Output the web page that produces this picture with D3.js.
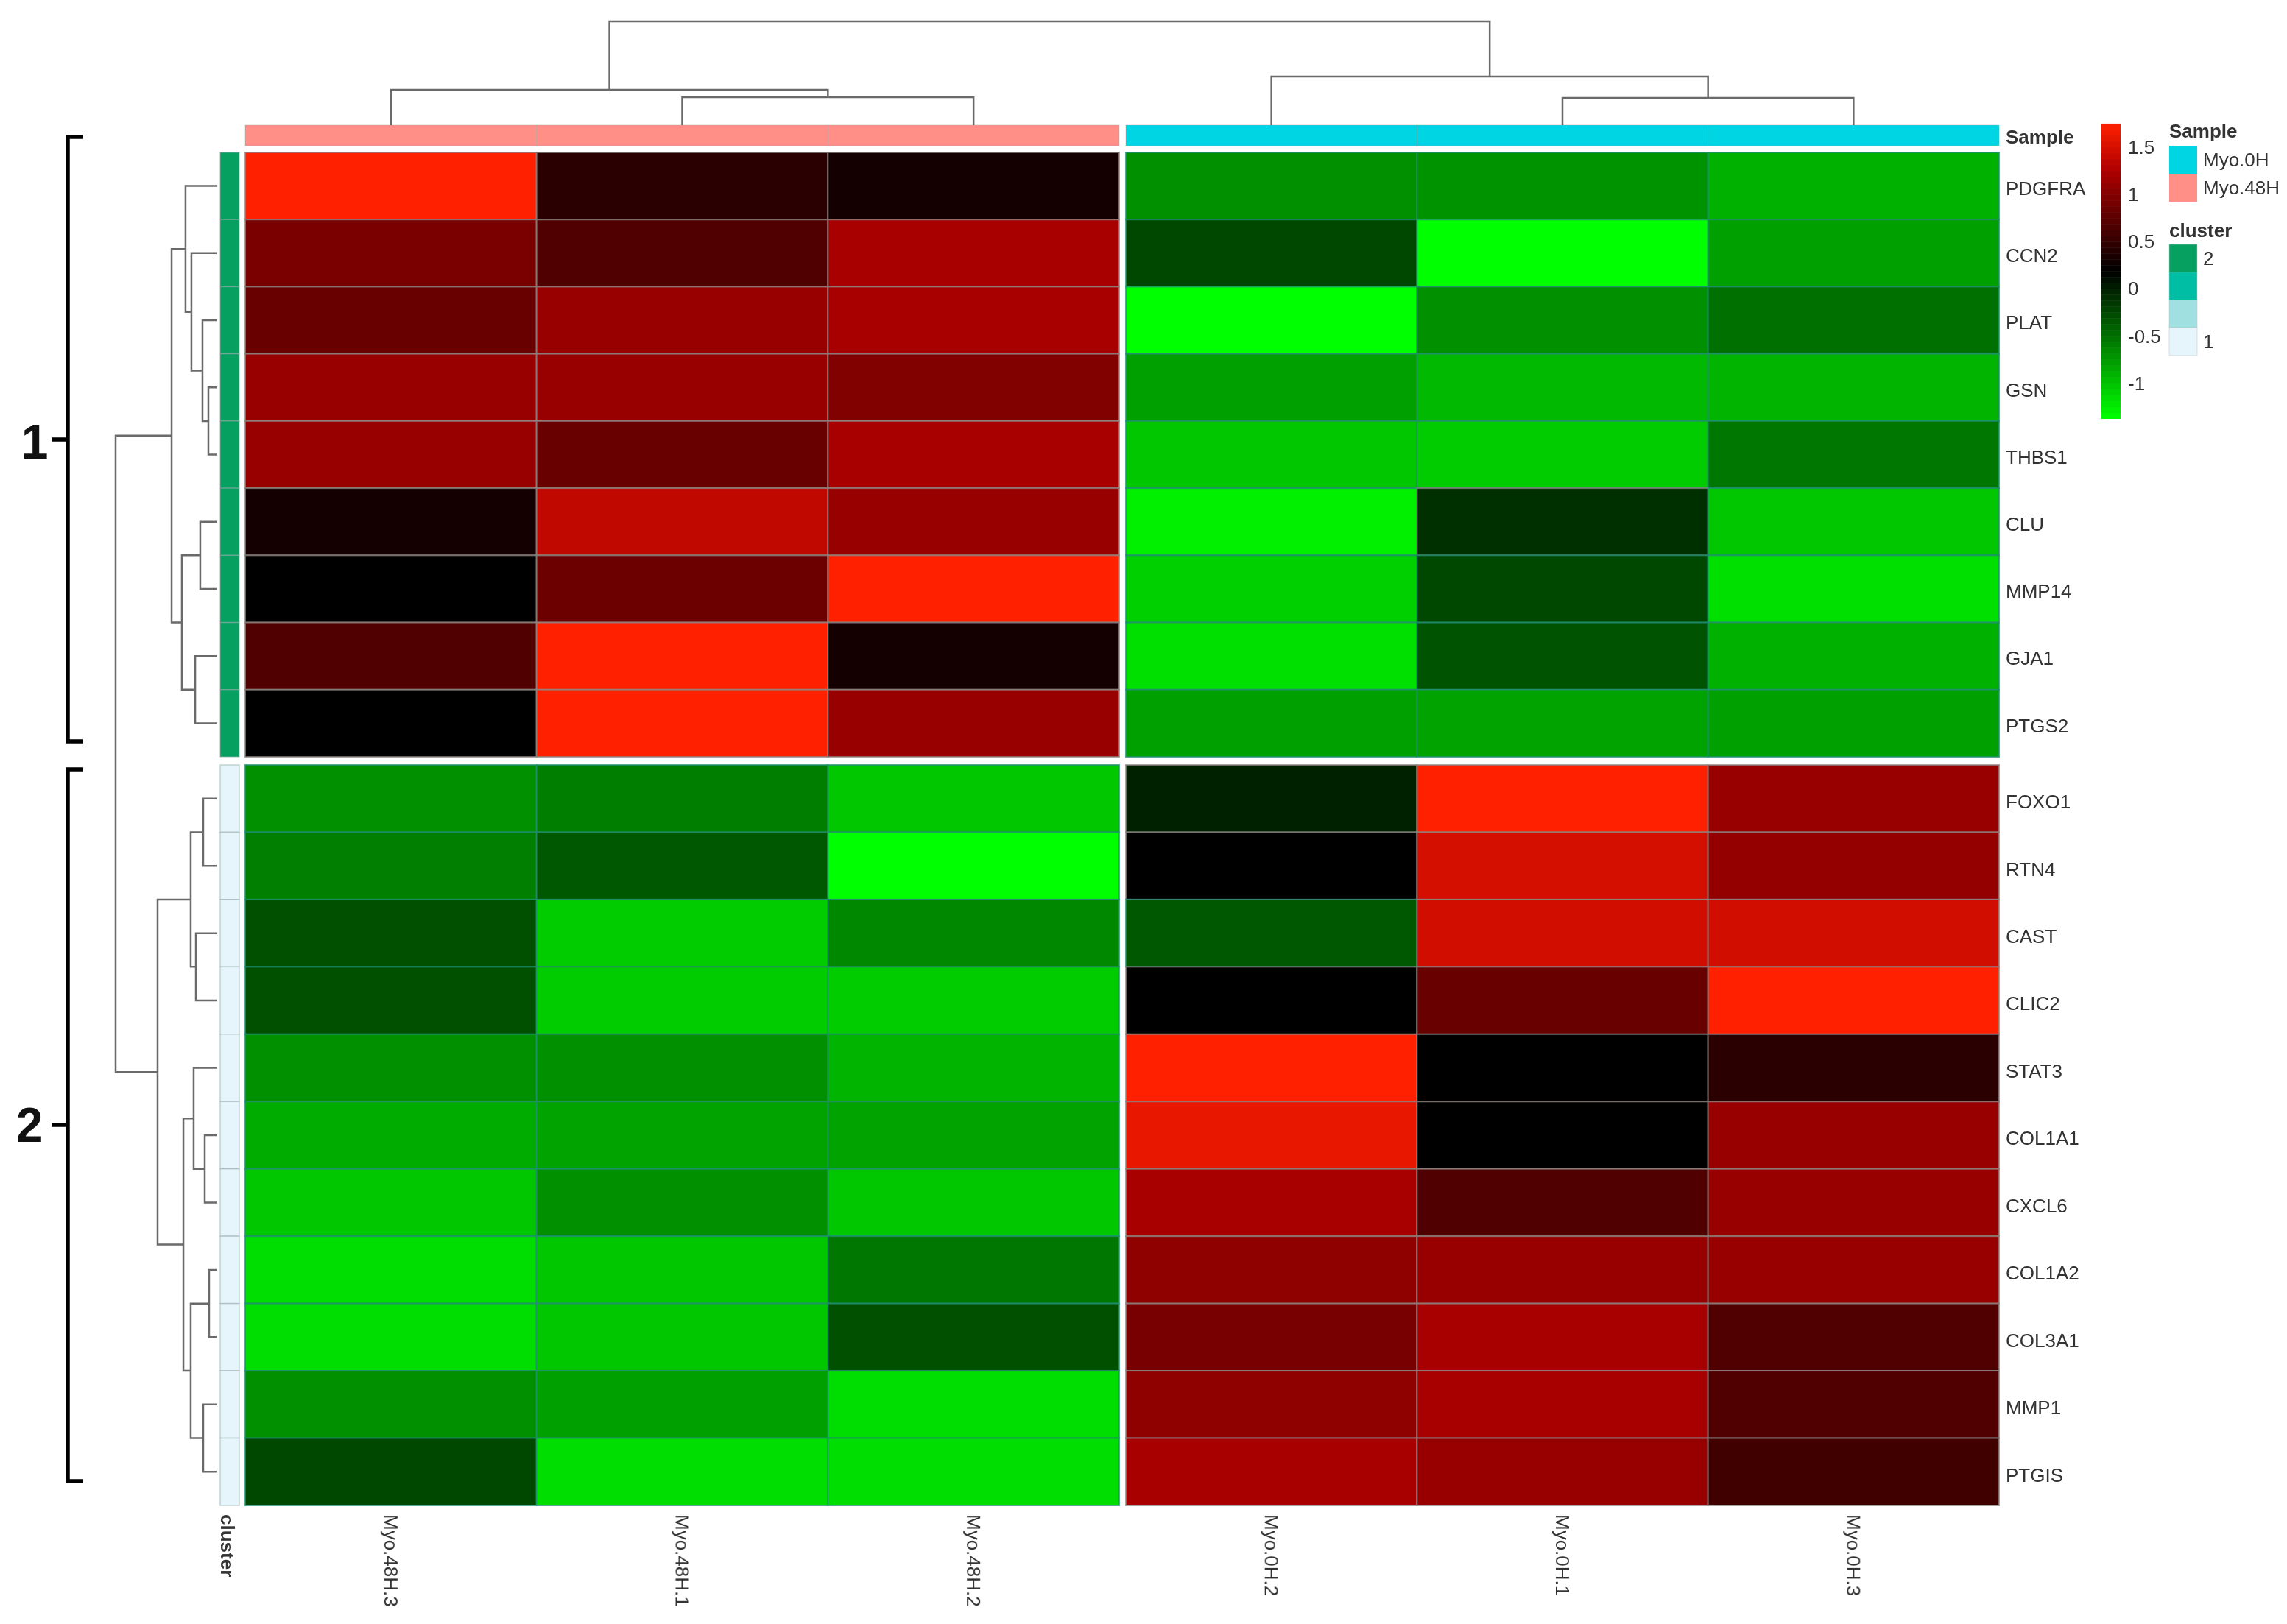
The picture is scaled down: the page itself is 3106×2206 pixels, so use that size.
<!DOCTYPE html>
<html>
<head>
<meta charset="utf-8">
<script src="https://d3js.org/d3.v7.min.js"></script>
<style>
	html, body { margin: 0; background: #fff; }
	text { font-family: "Liberation Sans", Arial, sans-serif; fill: #333; }
	.axis path { display: none; }
	.axis text { font-size: 26px; fill: #333; font-family: "Liberation Sans", Arial, sans-serif; }
	.tree path { fill: none; stroke: #6a6a6a; stroke-width: 2.5; }
	.bracket path { fill: none; stroke: #000; stroke-width: 5.5; }
	.cell { stroke-width: 2; }
</style>
</head>
<body>
<script>
// columns in the order they are drawn, split by the gap in the middle
var samples48 = ["Myo.48H.3", "Myo.48H.1", "Myo.48H.2"];
var samples0 = ["Myo.0H.2", "Myo.0H.1", "Myo.0H.3"];

// rows, split by the gap
var genes1 = ["PDGFRA", "CCN2", "PLAT", "GSN", "THBS1", "CLU", "MMP14", "GJA1", "PTGS2"];
var genes2 = ["FOXO1", "RTN4", "CAST", "CLIC2", "STAT3", "COL1A1", "CXCL6", "COL1A2", "COL3A1", "MMP1", "PTGIS"];

// one row per gene, columns as samples48 then samples0
var values1 = [
	[1.75, 0.45, 0.31, -0.69, -0.71, -0.89],
	[0.94, 0.68, 1.22, -0.25, -1.37, -0.79],
	[0.83, 1.12, 1.22, -1.37, -0.69, -0.50],
	[1.12, 1.12, 0.98, -0.79, -0.94, -0.91],
	[1.12, 0.83, 1.22, -1.03, -1.06, -0.54],
	[0.31, 1.37, 1.12, -1.28, -0.10, -1.03],
	[0.19, 0.85, 1.75, -1.08, -0.25, -1.18],
	[0.68, 1.75, 0.31, -1.18, -0.32, -0.89],
	[0.19, 1.75, 1.12, -0.79, -0.81, -0.79]
];
var values2 = [
	[-0.69, -0.58, -1.03, -0.01, 1.75, 1.12],
	[-0.59, -0.35, -1.37, 0.19, 1.49, 1.10],
	[-0.30, -1.06, -0.64, -0.35, 1.47, 1.47],
	[-0.30, -1.06, -1.06, 0.19, 0.83, 1.75],
	[-0.69, -0.69, -0.91, 1.75, 0.19, 0.45],
	[-0.86, -0.81, -0.81, 1.61, 0.19, 1.12],
	[-1.03, -0.69, -1.03, 1.22, 0.68, 1.12],
	[-1.16, -1.03, -0.54, 1.07, 1.12, 1.12],
	[-1.16, -1.03, -0.30, 0.93, 1.22, 0.68],
	[-0.69, -0.79, -1.16, 1.07, 1.22, 0.68],
	[-0.25, -1.16, -1.16, 1.22, 1.12, 0.58]
];

// dendrograms: [height, left, right], height 1 is the root
var rowTree = [1,
	[0.449,
		[0.312, "PDGFRA",
			[0.254, "CCN2",
				[0.145, "PLAT", [0.087, "GSN", "THBS1"]]]],
		[0.348,
			[0.167, "CLU", "MMP14"],
			[0.217, "GJA1", "PTGS2"]]],
	[0.587,
		[0.261,
			[0.138, "FOXO1", "RTN4"],
			[0.210, "CAST", "CLIC2"]],
		[0.333,
			[0.232, "STAT3", [0.123, "COL1A1", "CXCL6"]],
			[0.261,
				[0.080, "COL1A2", "COL3A1"],
				[0.138, "MMP1", "PTGIS"]]]]
];
var colTree = [1,
	[0.34, "Myo.48H.3", [0.27, "Myo.48H.1", "Myo.48H.2"]],
	[0.468, "Myo.0H.2", [0.262, "Myo.0H.1", "Myo.0H.3"]]
];

var colorDomain = [-1.37, 0.19, 1.27, 1.75];
var colorRange = ["#00ff00", "#000000", "#b00000", "#ff2000"];
var colorTicks = [-1, -0.5, 0, 0.5, 1, 1.5];

var sampleLevels = ["Myo.0H", "Myo.48H"];
var sampleColors = ["#00d5e3", "#ff8f87"];
var clusterColors = ["#06a060", "#00bea4", "#a0e0e0", "#e6f5fb"];
var clusterLabels = ["2", "", "", "1"];

var width = 3106, height = 2206;

var svg = d3.select("body").append("svg")
	.attr("width", width)
	.attr("height", height)
	.style("display", "block");

var root = svg.append("g").style("filter", "blur(0.7px)");

var color = d3.scaleLinear().domain(colorDomain).range(colorRange);

var x48 = d3.scaleBand().domain(samples48).range([333, 1520]);
var x0 = d3.scaleBand().domain(samples0).range([1529, 2715]);
var y1 = d3.scaleBand().domain(genes1).range([207, 1028]);
var y2 = d3.scaleBand().domain(genes2).range([1039, 2045]);

function xOf(s) { return samples48.indexOf(s) >= 0 ? x48(s) + x48.bandwidth() / 2 : x0(s) + x0.bandwidth() / 2; }
function yOf(g) { return genes1.indexOf(g) >= 0 ? y1(g) + y1.bandwidth() / 2 : y2(g) + y2.bandwidth() / 2; }

function drawBlock(genes, yScale, rows) {
	[[samples48, x48, 0], [samples0, x0, 3]].forEach(function(part) {
		var g = root.append("g");
		genes.forEach(function(gene, r) {
			g.selectAll(null)
				.data(part[0])
				.enter().append("rect")
				.attr("class", "cell")
				.attr("x", function(d) { return part[1](d); })
				.attr("y", yScale(gene))
				.attr("width", part[1].bandwidth())
				.attr("height", yScale.bandwidth())
				.attr("fill", function(d, c) { return color(rows[r][c + part[2]]); })
				// cell borders read grey on the reds and teal on the greens
				.attr("stroke", function(d, c) { return rows[r][c + part[2]] > -0.15 ? "#8d8683" : "#1f8f70"; })
				.attr("stroke-opacity", 0.75);
		});
	});
}
drawBlock(genes1, y1, values1);
drawBlock(genes2, y2, values2);

// sample annotation bar
function drawSampleBar(names, xScale, level) {
	root.selectAll(null)
		.data(names)
		.enter().append("rect")
		.attr("x", function(d) { return xScale(d); })
		.attr("y", 170)
		.attr("width", xScale.bandwidth())
		.attr("height", 28)
		.attr("fill", sampleColors[level])
		.attr("stroke", "#999")
		.attr("stroke-opacity", 0.35)
		.attr("stroke-width", 1);
}
drawSampleBar(samples48, x48, 1);
drawSampleBar(samples0, x0, 0);

// cluster annotation bar
function drawClusterBar(genes, yScale, fill) {
	root.selectAll(null)
		.data(genes)
		.enter().append("rect")
		.attr("x", 299)
		.attr("y", function(d) { return yScale(d); })
		.attr("width", 26)
		.attr("height", yScale.bandwidth())
		.attr("fill", fill)
		.attr("stroke", "#8fa8a8")
		.attr("stroke-opacity", 0.5)
		.attr("stroke-width", 1.5);
}
drawClusterBar(genes1, y1, clusterColors[0]);
drawClusterBar(genes2, y2, clusterColors[3]);

// dendrograms, walked from the nested arrays
function drawTree(tree, leafPos, link) {
	function walk(node) {
		if (typeof node === "string") return { pos: leafPos(node), h: 0 };
		var a = walk(node[1]), b = walk(node[2]);
		link(a, b, node[0]);
		return { pos: (a.pos + b.pos) / 2, h: node[0] };
	}
	walk(tree);
}

var rowH = d3.scaleLinear().domain([0, 1]).range([295, 157]);
var rowPath = d3.path();
drawTree(rowTree, yOf, function(a, b, h) {
	rowPath.moveTo(rowH(a.h), a.pos);
	rowPath.lineTo(rowH(h), a.pos);
	rowPath.lineTo(rowH(h), b.pos);
	rowPath.lineTo(rowH(b.h), b.pos);
});
root.append("g").attr("class", "tree").append("path").attr("d", rowPath.toString());

var colH = d3.scaleLinear().domain([0, 1]).range([170, 29]);
var colPath = d3.path();
drawTree(colTree, xOf, function(a, b, h) {
	colPath.moveTo(a.pos, colH(a.h));
	colPath.lineTo(a.pos, colH(h));
	colPath.lineTo(b.pos, colH(h));
	colPath.lineTo(b.pos, colH(b.h));
});
root.append("g").attr("class", "tree").append("path").attr("d", colPath.toString());

// gene labels
root.append("g").attr("class", "axis")
	.attr("transform", "translate(2715,4)")
	.call(d3.axisRight(y1).tickSize(0).tickPadding(9));
root.append("g").attr("class", "axis")
	.attr("transform", "translate(2715,5)")
	.call(d3.axisRight(y2).tickSize(0).tickPadding(9));

root.append("text")
	.attr("x", 2724)
	.attr("y", 195)
	.style("font-size", "26px")
	.style("font-weight", "bold")
	.text("Sample");

// sample labels under the columns
function drawColLabels(names, xScale) {
	root.selectAll(null)
		.data(names)
		.enter().append("text")
		.attr("transform", function(d) { return "translate(" + (xScale(d) + xScale.bandwidth() / 2) + ",2057) rotate(90)"; })
		.attr("dy", "0.35em")
		.style("font-size", "26px")
		.text(function(d) { return d; });
}
drawColLabels(samples48, x48);
drawColLabels(samples0, x0);

root.append("text")
	.attr("transform", "translate(309,2057) rotate(90)")
	.attr("dy", "0.35em")
	.style("font-size", "26px")
	.style("font-weight", "bold")
	.text("cluster");

// colour bar
var legendY = d3.scaleLinear().domain([-1, 1.5]).range([521, 200]);
var stepCount = 50;
var stepSize = (colorDomain[colorDomain.length - 1] - colorDomain[0]) / stepCount;
var steps = d3.range(stepCount).map(function(i) { return colorDomain[0] + stepSize * i; });
root.selectAll(null)
	.data(steps)
	.enter().append("rect")
	.attr("x", 2854)
	.attr("y", function(d) { return legendY(d + stepSize); })
	.attr("width", 26)
	.attr("height", function(d) { return legendY(d) - legendY(d + stepSize) + 0.5; })
	.attr("fill", function(d) { return color(d + stepSize / 2); });
root.append("g").attr("class", "axis")
	.attr("transform", "translate(2880,0)")
	.call(d3.axisRight(legendY).tickValues(colorTicks).tickFormat(String).tickSize(0).tickPadding(10));

// sample legend
root.append("text").attr("x", 2946).attr("y", 187)
	.style("font-size", "26px").style("font-weight", "bold").text("Sample");
var sampleY = d3.scaleBand().domain(sampleLevels).range([198, 274]);
root.selectAll(null)
	.data(sampleLevels)
	.enter().append("rect")
	.attr("x", 2946)
	.attr("y", function(d) { return sampleY(d); })
	.attr("width", 38)
	.attr("height", sampleY.bandwidth())
	.attr("fill", function(d, i) { return sampleColors[i]; });
root.selectAll(null)
	.data(sampleLevels)
	.enter().append("text")
	.attr("x", 2992)
	.attr("y", function(d) { return sampleY(d) + sampleY.bandwidth() / 2; })
	.attr("dy", "0.35em")
	.style("font-size", "26px")
	.text(function(d) { return d; });

// cluster legend
root.append("text").attr("x", 2946).attr("y", 322)
	.style("font-size", "26px").style("font-weight", "bold").text("cluster");
var clusterY = d3.scaleBand().domain(d3.range(clusterColors.length)).range([332, 483]);
root.selectAll(null)
	.data(clusterColors)
	.enter().append("rect")
	.attr("x", 2946)
	.attr("y", function(d, i) { return clusterY(i); })
	.attr("width", 38)
	.attr("height", clusterY.bandwidth())
	.attr("fill", function(d) { return d; })
	.attr("stroke", "#b5c4c4")
	.attr("stroke-opacity", 0.5);
root.selectAll(null)
	.data(clusterLabels)
	.enter().append("text")
	.attr("x", 2992)
	.attr("y", function(d, i) { return clusterY(i) + clusterY.bandwidth() / 2; })
	.attr("dy", "0.35em")
	.style("font-size", "26px")
	.text(function(d) { return d; });

// hand drawn brackets for the two clusters
var brackets = [
	{ name: "1", top: 186, bottom: 1007, mid: 597, labelX: 47, labelY: 600 },
	{ name: "2", top: 1045, bottom: 2012, mid: 1528, labelX: 40, labelY: 1528 }
];
brackets.forEach(function(b) {
	root.append("g").attr("class", "bracket").append("path")
		.attr("d", "M113," + b.top + "H92V" + b.bottom + "H113M92," + b.mid + "H70");
	root.append("text")
		.attr("x", b.labelX)
		.attr("y", b.labelY)
		.attr("dy", "0.35em")
		.attr("text-anchor", "middle")
		.style("font-size", "66px")
		.style("font-weight", "bold")
		.style("fill", "#111")
		.text(b.name);
});
</script>
</body>
</html>
